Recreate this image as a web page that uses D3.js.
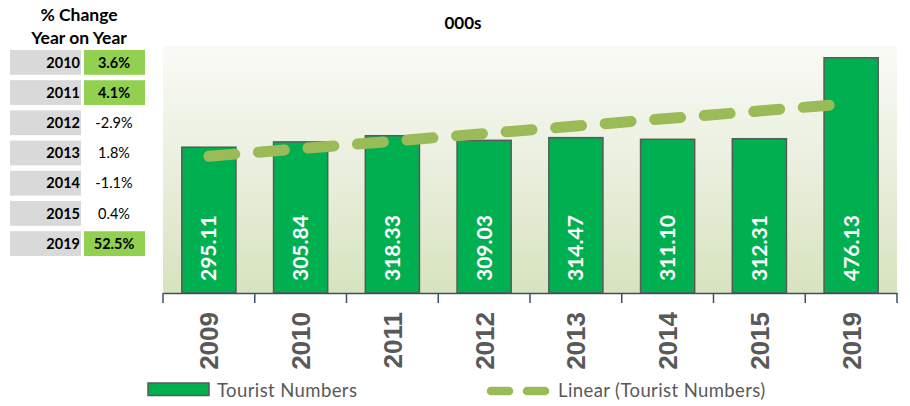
<!DOCTYPE html>
<html>
<head>
<meta charset="utf-8">
<script src="https://cdn.jsdelivr.net/npm/d3@7"></script>
<style>
  html, body { margin: 0; padding: 0; background: #ffffff; }
  svg { display: block; }
</style>
</head>
<body>
<svg id="chart" width="910" height="406"></svg>
<script>
// ---- data ----
const years = ["2009", "2010", "2011", "2012", "2013", "2014", "2015", "2019"];
const touristNumbers = [295.11, 305.84, 318.33, 309.03, 314.47, 311.10, 312.31, 476.13];
const changeYears = ["2010", "2011", "2012", "2013", "2014", "2015", "2019"];
const changeLabels = ["3.6%", "4.1%", "-2.9%", "1.8%", "-1.1%", "0.4%", "52.5%"];
const changeHighlight = [true, true, false, false, false, false, true];
const yDomain = [0, 500];

const svg = d3.select("#chart");
const calibri = "Lato, 'Open Sans', sans-serif";
const arial = "'Liberation Sans', Arial, sans-serif";

// ---- left table ----
svg.append("text").attr("x", 79).attr("y", 21).attr("text-anchor", "middle")
  .attr("font-family", calibri).attr("font-weight", "bold").attr("font-size", 17.5)
  .attr("fill", "#000").text("% Change");
svg.append("text").attr("x", 79).attr("y", 44).attr("text-anchor", "middle")
  .attr("font-family", calibri).attr("font-weight", "bold").attr("font-size", 17.5)
  .attr("fill", "#000").text("Year on Year");

const rowY = d3.scaleBand().domain(changeYears).range([50, 256]).paddingInner(0.18).paddingOuter(0);
const rows = svg.append("g").selectAll("g").data(changeYears).join("g")
  .attr("transform", d => `translate(0,${rowY(d)})`);
rows.append("rect").attr("x", 10).attr("width", 71).attr("height", rowY.bandwidth()).attr("fill", "#D9D9D9");
rows.append("rect").attr("x", 84).attr("width", 61).attr("height", rowY.bandwidth())
  .attr("fill", (d, i) => changeHighlight[i] ? "#92D050" : "none");
rows.append("text").attr("x", 80).attr("y", rowY.bandwidth() / 2).attr("dy", "0.36em")
  .attr("text-anchor", "end").attr("font-family", calibri).attr("font-weight", "bold")
  .attr("font-size", 14.5).attr("fill", "#000").text(d => d);
rows.append("text").attr("x", 114).attr("y", rowY.bandwidth() / 2).attr("dy", "0.36em")
  .attr("text-anchor", "middle").attr("font-family", calibri)
  .attr("font-weight", (d, i) => changeHighlight[i] ? "bold" : "normal")
  .attr("font-size", 14.5).attr("fill", "#000").text((d, i) => changeLabels[i]);

// ---- chart ----
const plot = { left: 163, right: 897, top: 46, bottom: 293 };
const x = d3.scaleBand().domain(years).range([plot.left, plot.right]).paddingInner(0.41).paddingOuter(0.205);
const xCat = d3.scaleBand().domain(years).range([plot.left, plot.right]);
const y = d3.scaleLinear().domain(yDomain).range([plot.bottom, plot.top]);

const defs = svg.append("defs");
const grad = defs.append("linearGradient").attr("id", "bg").attr("x1", 0).attr("y1", 0).attr("x2", 0).attr("y2", 1);
grad.append("stop").attr("offset", "0%").attr("stop-color", "#F9FAF6");
grad.append("stop").attr("offset", "50%").attr("stop-color", "#E9EFDD");
grad.append("stop").attr("offset", "100%").attr("stop-color", "#D7E3BE");
svg.append("rect").attr("x", plot.left).attr("y", plot.top)
  .attr("width", plot.right - plot.left).attr("height", plot.bottom - plot.top).attr("fill", "url(#bg)");

// title
svg.append("text").attr("x", 463).attr("y", 29).attr("text-anchor", "middle")
  .attr("font-family", calibri).attr("font-weight", "bold").attr("font-size", 17)
  .attr("fill", "#000").text("000s");

// bars
svg.append("g").selectAll("rect").data(years).join("rect")
  .attr("x", d => x(d)).attr("width", x.bandwidth())
  .attr("y", (d, i) => y(touristNumbers[i]))
  .attr("height", (d, i) => y(0) - y(touristNumbers[i]))
  .attr("fill", "#00B050").attr("stroke", "#595959").attr("stroke-width", 1.5);

// bar labels
svg.append("g").selectAll("text").data(years).join("text")
  .attr("transform", d => `translate(${x(d) + x.bandwidth() / 2},281) rotate(-90)`)
  .attr("dy", "0.36em").attr("text-anchor", "start")
  .attr("font-family", calibri).attr("font-weight", "bold").attr("font-size", 21)
  .attr("fill", "#fff").text((d, i) => touristNumbers[i].toFixed(2));

// linear trendline (least squares over category index)
const n = touristNumbers.length;
const idx = d3.range(1, n + 1);
const mx = d3.mean(idx), my = d3.mean(touristNumbers);
const slope = d3.sum(idx, (k, i) => (k - mx) * (touristNumbers[i] - my)) / d3.sum(idx, k => (k - mx) * (k - mx));
const icpt = my - slope * mx;
const trend = years.map((yr, i) => ({ yr, v: icpt + slope * (i + 1) }));
svg.append("path").datum([trend[0], trend[n - 1]])
  .attr("d", d3.line().x(d => xCat(d.yr) + xCat.bandwidth() / 2).y(d => y(d.v)))
  .attr("fill", "none").attr("stroke", "#9BBB59").attr("stroke-width", 11)
  .attr("stroke-linecap", "round").attr("stroke-dasharray", "26 23.7");

// x axis
const xAxis = d3.axisBottom(xCat).tickSize(0).tickFormat("");
const ax = svg.append("g").attr("transform", `translate(0,${plot.bottom})`).call(xAxis);
ax.select(".domain").attr("stroke", "#3E4F6A").attr("stroke-width", 1.5);
const bounds = years.map(d => xCat(d)).concat([plot.right]);
ax.selectAll("line.bound").data(bounds).join("line").attr("class", "bound")
  .attr("x1", d => d).attr("x2", d => d).attr("y1", 0).attr("y2", 10)
  .attr("stroke", "#3E4F6A").attr("stroke-width", 1.5);
svg.append("g").selectAll("text").data(years).join("text")
  .attr("transform", d => `translate(${xCat(d) + xCat.bandwidth() / 2},312) rotate(-90)`)
  .attr("dy", "0.36em").attr("text-anchor", "end")
  .attr("font-family", arial).attr("font-weight", "bold").attr("font-size", 26)
  .attr("fill", "#595959").text(d => d);

// legend
svg.append("rect").attr("x", 148).attr("y", 383).attr("width", 61).attr("height", 12.5)
  .attr("fill", "#00B050").attr("stroke", "#595959").attr("stroke-width", 1.5);
svg.append("text").attr("x", 217).attr("y", 396.5)
  .attr("font-family", calibri).attr("font-size", 18.5).attr("letter-spacing", 0.4)
  .attr("fill", "#595959").text("Tourist Numbers");
svg.append("line").attr("x1", 491).attr("x2", 545).attr("y1", 391).attr("y2", 391)
  .attr("stroke", "#9BBB59").attr("stroke-width", 8.5).attr("stroke-linecap", "round")
  .attr("stroke-dasharray", "18 18");
svg.append("text").attr("x", 558).attr("y", 396.5)
  .attr("font-family", calibri).attr("font-size", 18.5).attr("letter-spacing", 0.4)
  .attr("fill", "#595959").text("Linear (Tourist Numbers)");
</script>
</body>
</html>
